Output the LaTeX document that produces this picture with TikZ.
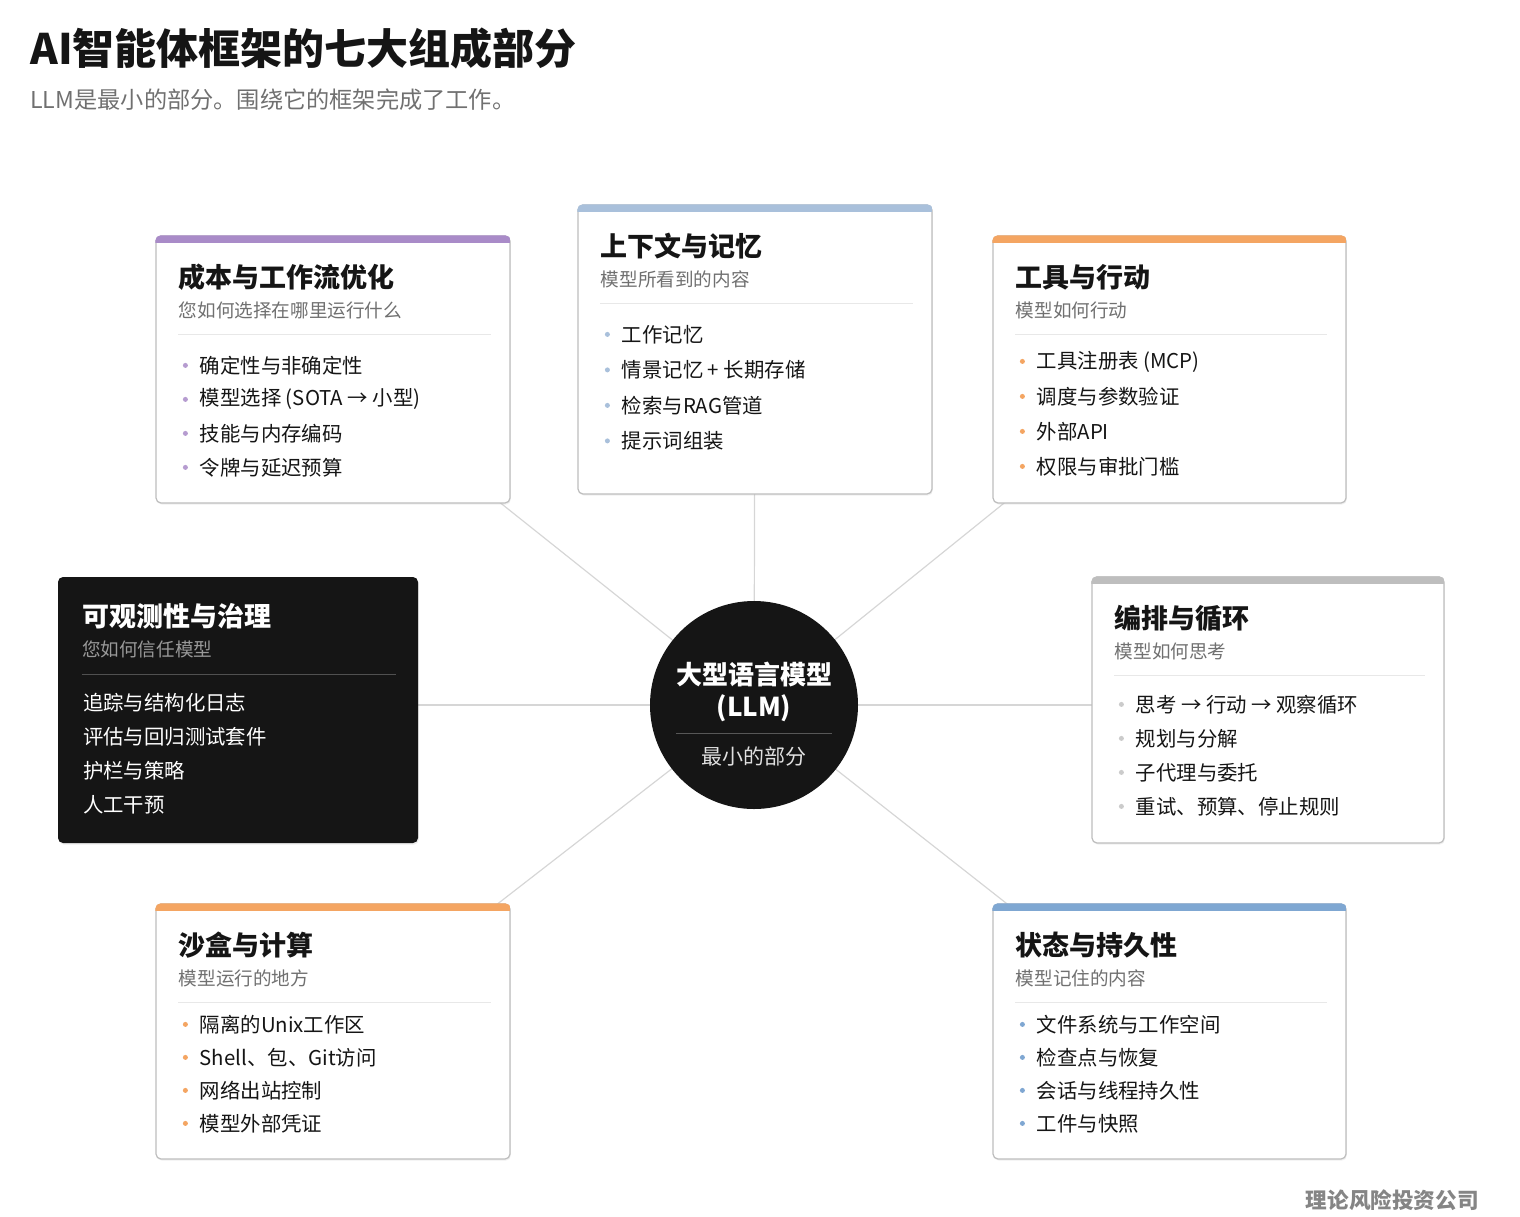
\documentclass[tikz,border=0pt]{standalone}
\usepackage{fontspec}
\setmainfont{Noto Sans CJK SC}
\usetikzlibrary{calc,fit,shadows,backgrounds}

\definecolor{inkdark}{HTML}{151515}
\definecolor{subgray}{HTML}{707070}
\definecolor{cardline}{HTML}{BDBDBD}
\definecolor{linkgray}{HTML}{D6D6D6}
\definecolor{barpurple}{HTML}{A98BC8}
\definecolor{barsky}{HTML}{A9C0DB}
\definecolor{barorange}{HTML}{F4A562}
\definecolor{bargray}{HTML}{BEBEBE}
\definecolor{barblue}{HTML}{7FA7D2}

\tikzset{
    card/.style={draw=cardline, fill=white, rounded corners=2.5pt, inner sep=0pt, line width=0.6pt,
        drop shadow={opacity=0.12, shadow xshift=0.4pt, shadow yshift=-0.8pt}},
    darkcard/.style={fill=inkdark, rounded corners=2.5pt, inner sep=0pt,
        drop shadow={opacity=0.15, shadow xshift=0.4pt, shadow yshift=-0.8pt}},
    cardtitle/.style={anchor=west, inner sep=0pt, font=\fontsize{13.5}{16}\selectfont\bfseries, text=inkdark},
    cardsub/.style={anchor=west, inner sep=0pt, font=\fontsize{9.3}{11}\selectfont, text=subgray},
    carditem/.style={anchor=west, inner sep=0pt, font=\fontsize{10.2}{12}\selectfont, text=inkdark},
    divider/.style={draw=black!9, line width=0.5pt},
    link/.style={draw=linkgray, line width=0.6pt},
}

% card frame: name, top left, bottom right, bar colour
\newcommand{\cardframe}[4]{%
    \node[card, fit={(#2) (#3)}] (#1) {};
    \begin{scope}
        \clip[rounded corners=2.5pt] (#1.north west) rectangle (#1.south east);
        \fill[#4] (#1.north west) rectangle ($(#1.north east)+(0,8)$);
    \end{scope}
}

% card text: name, bullet colour, title, subtitle, items, first item offset, item step
\newcommand{\cardtext}[7]{%
    \node[cardtitle] (#1-title) at ($(#1.north west)+(23,42)$) {#3};
    \node[cardsub] (#1-sub) at ($(#1.north west)+(23,75)$) {#4};
    \draw[divider] ($(#1.north west)+(23,99)$) -- ($(#1.north east)+(-20,99)$);
    \foreach \itemtext [count=\i] in {#5} {
        \fill[#2] ($(#1.north west)+(30,#6+#7*\i-#7)$) circle (1.25pt);
        \node[carditem] (#1-item\i) at ($(#1.north west)+(44,#6+#7*\i-#7)$) {\itemtext};
    }
}

\begin{document}
\begin{tikzpicture}[x=0.5pt, y=-0.5pt]

\useasboundingbox (0,0) rectangle (1520,1216);

% heading
\node[anchor=west, inner sep=0pt, font=\fontsize{21}{25}\selectfont\bfseries, text=inkdark] (heading) at (30,48) {AI智能体框架的七大组成部分};
\node[anchor=west, inner sep=0pt, font=\fontsize{11.6}{14}\selectfont, text=subgray] (tagline) at (30,100) {LLM是最小的部分。围绕它的框架完成了工作。};

% the model in the middle
\node[circle, fill=inkdark, minimum size=104pt, inner sep=0pt] (llm) at (754,705) {};
\node[inner sep=0pt, font=\fontsize{13}{15}\selectfont\bfseries, text=white] (llm-name) at ($(llm.center)+(0,-30)$) {大型语言模型};
\node[inner sep=0pt, font=\fontsize{13}{15}\selectfont\bfseries, text=white] (llm-abbr) at ($(llm.center)+(0,3)$) {(LLM)};
\draw[draw=white!28!inkdark, line width=0.5pt] ($(llm.center)+(-78,28)$) -- ($(llm.center)+(78,28)$);
\node[inner sep=0pt, font=\fontsize{10.5}{12}\selectfont, text=white!88!black] (llm-sub) at ($(llm.center)+(0,51)$) {最小的部分};

% light cards
\cardframe{cost}{156,236}{510,503}{barpurple}
\cardtext{cost}{barpurple!85}{成本与工作流优化}{您如何选择在哪里运行什么}%
    {确定性与非确定性, {模型选择 (SOTA → 小型)}, 技能与内存编码, 令牌与延迟预算}{130}{34}

\cardframe{context}{578,205}{932,494}{barsky}
\cardtext{context}{barsky}{上下文与记忆}{模型所看到的内容}%
    {工作记忆, 情景记忆 + 长期存储, 检索与RAG管道, 提示词组装}{130}{35.5}

\cardframe{tools}{993,236}{1346,503}{barorange}
\cardtext{tools}{barorange}{工具与行动}{模型如何行动}%
    {{工具注册表 (MCP)}, 调度与参数验证, 外部API, 权限与审批门槛}{126}{35}

\cardframe{loop}{1092,577}{1444,843}{bargray}
\cardtext{loop}{bargray!80}{编排与循环}{模型如何思考}%
    {思考 → 行动 → 观察循环, 规划与分解, 子代理与委托, 重试、预算、停止规则}{128}{34}

\cardframe{sandbox}{156,904}{510,1159}{barorange}
\cardtext{sandbox}{barorange}{沙盒与计算}{模型运行的地方}%
    {隔离的Unix工作区, Shell、包、Git访问, 网络出站控制, 模型外部凭证}{121}{33}

\cardframe{state}{993,904}{1346,1159}{barblue}
\cardtext{state}{barblue}{状态与持久性}{模型记住的内容}%
    {文件系统与工作空间, 检查点与恢复, 会话与线程持久性, 工件与快照}{121}{33}

% dark card
\node[darkcard, fit={(58,577) (418,843)}] (obs) {};
\node[cardtitle, text=white] (obs-title) at ($(obs.north west)+(24,40)$) {可观测性与治理};
\node[cardsub, text=white!60!black] (obs-sub) at ($(obs.north west)+(24,73)$) {您如何信任模型};
\draw[draw=white!25!inkdark, line width=0.5pt] ($(obs.north west)+(24,98)$) -- ($(obs.north east)+(-22,98)$);
\foreach \itemtext [count=\i] in {追踪与结构化日志, 评估与回归测试套件, 护栏与策略, 人工干预}
    \node[carditem, text=white] (obs-item\i) at ($(obs.north west)+(25,126+34*\i-34)$) {\itemtext};

% spokes
\begin{scope}[on background layer]
\foreach \cardname in {cost, context, tools, sandbox, state}
    \draw[link] (llm.center) -- (\cardname.center);
\foreach \cardname in {obs, loop}
    \draw[link] (llm.center) -- (llm.center -| \cardname.center);
\end{scope}

% footer
\node[anchor=east, inner sep=0pt, font=\fontsize{10.8}{13}\selectfont\bfseries, text=black!48] (brand) at (1479,1200) {理论风险投资公司};

\end{tikzpicture}
\end{document}
